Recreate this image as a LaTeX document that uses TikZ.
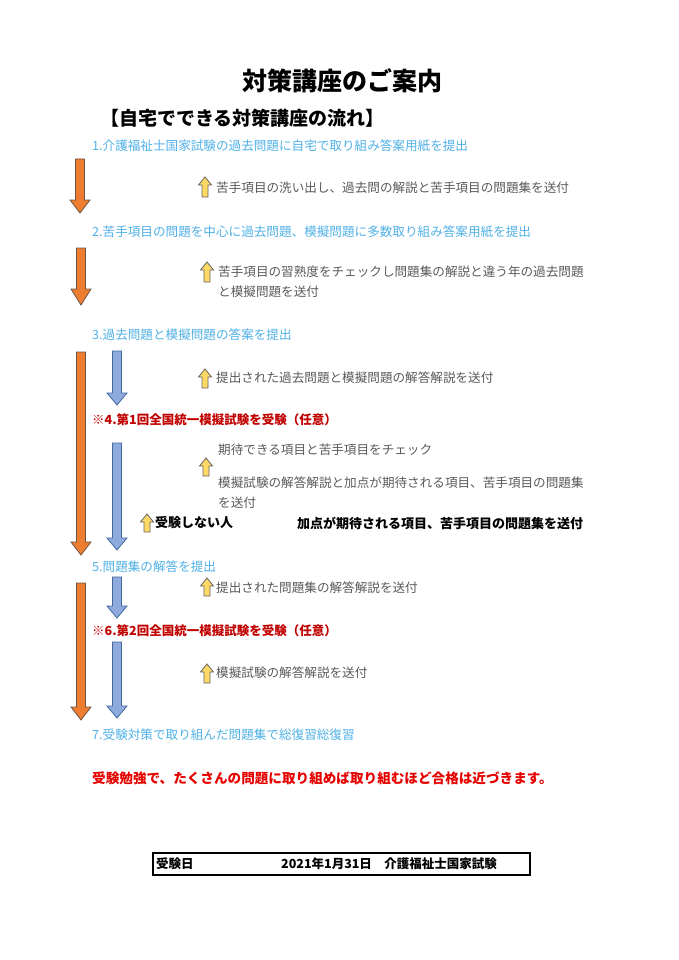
\documentclass[tikz,border=0pt]{standalone}
\usepackage{fontspec}
\setmainfont{Noto Sans CJK JP}
\definecolor{stepblue}{RGB}{79,176,230}
\definecolor{sendgray}{RGB}{89,89,89}
\definecolor{examred}{RGB}{192,0,0}
\definecolor{notered}{RGB}{230,0,0}
\definecolor{orangefill}{RGB}{237,125,49}
\definecolor{orangeline}{RGB}{110,85,70}
\definecolor{bluefill}{RGB}{143,170,220}
\definecolor{blueline}{RGB}{65,105,160}
\definecolor{yellowfill}{RGB}{255,217,102}
\definecolor{yellowline}{RGB}{100,100,100}
% down block arrow: style, x, top, tip, head length
\newcommand{\downblock}[5]{%
  \draw[#1] ({#2-4.5},#3) -- ({#2+4.5},#3) -- ({#2+4.5},{#4-#5}) -- ({#2+10},{#4-#5})
    -- (#2,#4) -- ({#2-10},{#4-#5}) -- ({#2-4.5},{#4-#5}) -- cycle;}
% small up arrow: x, top, bottom
\newcommand{\upblock}[3]{%
  \draw[sendarrow] ({#1-3},#3) -- ({#1+3},#3) -- ({#1+3},{#2+8}) -- ({#1+6.5},{#2+8})
    -- (#1,#2) -- ({#1-6.5},{#2+8}) -- ({#1-3},{#2+8}) -- cycle;}
\begin{document}
\begin{tikzpicture}[x=1pt,y=-1pt,
    steptext/.style={anchor=west,inner sep=0pt,text=stepblue,font=\fontsize{12.6}{20}\selectfont},
    sendtext/.style={anchor=west,inner sep=0pt,text=sendgray,align=left,font=\fontsize{12.6}{20}\selectfont},
    examtext/.style={anchor=west,inner sep=0pt,text=examred,font=\bfseries\fontsize{12.5}{20}\selectfont},
    boldtext/.style={anchor=west,inner sep=0pt,font=\bfseries\fontsize{13}{20}\selectfont},
    mainarrow/.style={fill=orangefill,draw=orangeline,line width=0.8pt,line join=miter},
    subarrow/.style={fill=bluefill,draw=blueline,line width=0.8pt,line join=miter},
    sendarrow/.style={fill=yellowfill,draw=yellowline,line width=0.8pt,line join=miter}]
  \useasboundingbox (0,0) rectangle (678,960);
  \node[font=\bfseries\fontsize{25}{28}\selectfont] (title) at (342,81) {対策講座のご案内};
  \node[anchor=west,inner sep=0pt,font=\bfseries\fontsize{19}{24}\selectfont] (flow) at (100,118) {【自宅でできる対策講座の流れ】};
  % steps
  \node[steptext] (s1) at (92,146) {1.介護福祉士国家試験の過去問題に自宅で取り組み答案用紙を提出};
  \node[steptext] (s2) at (92,232) {2.苦手項目の問題を中心に過去問題、模擬問題に多数取り組み答案用紙を提出};
  \node[steptext] (s3) at (92,335) {3.過去問題と模擬問題の答案を提出};
  \node[examtext] (s4) at (92,420) {※4.第1回全国統一模擬試験を受験（任意）};
  \node[steptext] (s5) at (92,567) {5.問題集の解答を提出};
  \node[examtext] (s6) at (92,631) {※6.第2回全国統一模擬試験を受験（任意）};
  \node[steptext] (s7) at (92,735) {7.受験対策で取り組んだ問題集で総復習総復習};
  % what is sent back
  \node[sendtext] (r1) at (216,188) {苦手項目の洗い出し、過去問の解説と苦手項目の問題集を送付};
  \node[sendtext] (r2) at (218,282) {苦手項目の習熟度をチェックし問題集の解説と違う年の過去問題\\と模擬問題を送付};
  \node[sendtext] (r3) at (216,378) {提出された過去問題と模擬問題の解答解説を送付};
  \node[sendtext] (r4a) at (218,450) {期待できる項目と苦手項目をチェック};
  \node[sendtext] (r4b) at (218,493) {模擬試験の解答解説と加点が期待される項目、苦手項目の問題集\\を送付};
  \node[boldtext] (skip) at (155,523) {受験しない人};
  \node[boldtext] (skipsend) at (297,523) {加点が期待される項目、苦手項目の問題集を送付};
  \node[sendtext] (r5) at (216,588) {提出された問題集の解答解説を送付};
  \node[sendtext] (r6) at (216,673) {模擬試験の解答解説を送付};
  % arrows
  \downblock{mainarrow}{80}{159}{213}{13}
  \downblock{mainarrow}{81}{248}{305}{16}
  \downblock{mainarrow}{81}{352}{555}{13}
  \downblock{mainarrow}{81}{583}{720}{13}
  \downblock{subarrow}{117}{351}{405}{12}
  \downblock{subarrow}{117}{443}{550}{12}
  \downblock{subarrow}{117}{577}{618}{12}
  \downblock{subarrow}{117}{642}{718}{12}
  \upblock{205}{177}{197}
  \upblock{207}{262}{282}
  \upblock{205}{369}{388}
  \upblock{206}{458}{476}
  \upblock{147}{514}{532}
  \upblock{207}{578}{596}
  \upblock{207}{664}{683}
  % closing note
  \node[anchor=west,inner sep=0pt,text=notered,font=\bfseries\fontsize{13.6}{20}\selectfont] (note) at (92,778) {受験勉強で、たくさんの問題に取り組めば取り組むほど合格は近づきます。};
  \node[draw,line width=1.6pt,minimum width=377pt,minimum height=22pt,inner sep=0pt] (datebox) at (341.5,864) {};
  \node[boldtext,font=\bfseries\fontsize{12.5}{20}\selectfont] (datelabel) at (156,864) {受験日};
  \node[boldtext,font=\bfseries\fontsize{12.5}{20}\selectfont] (date) at (281,864) {2021年1月31日　介護福祉士国家試験};
\end{tikzpicture}
\end{document}
